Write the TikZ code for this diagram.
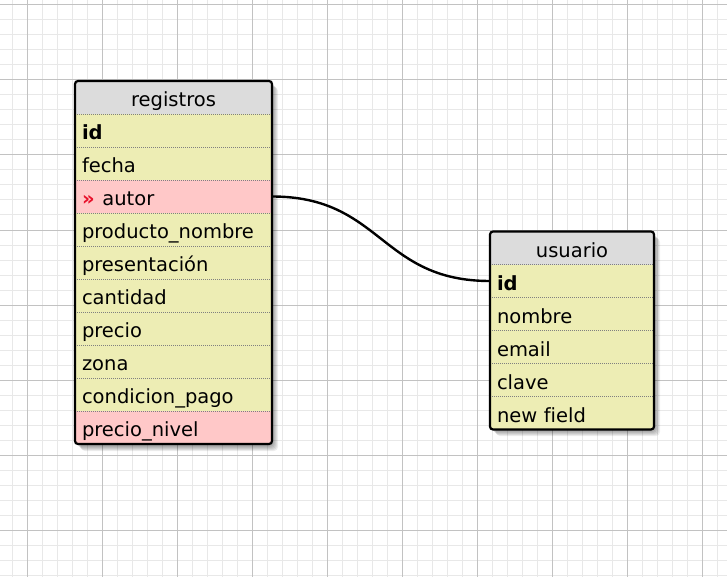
\documentclass[tikz,border=0pt]{standalone}
\usepackage{fontspec}
\setmainfont[Ligatures=NoCommon]{DejaVu Sans}
\definecolor{hdrgray}{HTML}{DCDCDC}
\definecolor{rowy}{HTML}{EDEDB4}
\definecolor{rowp}{HTML}{FFC8C8}
\definecolor{gridminor}{HTML}{E8E8E8}
\definecolor{gridmajor}{HTML}{C2C2C2}
\definecolor{fkred}{HTML}{E8102A}
\begin{document}
\begin{tikzpicture}[x=1pt,y=-1pt,
  minorline/.style={draw=gridminor, line width=1pt},
  majorline/.style={draw=gridmajor, line width=1pt},
  cell/.style={minimum height=33pt, inner xsep=7pt, inner ysep=0pt, outer sep=0pt,
    align=left, font=\fontsize{19.5}{21}\selectfont, text height=21pt, text depth=3pt, anchor=center},
  regcell/.style={cell, minimum width=197pt, text width=183pt},
  usrcell/.style={cell, minimum width=164pt, text width=150pt},
  hdr/.style={fill=hdrgray, align=center},
  yrow/.style={fill=rowy},
  prow/.style={fill=rowp},
  sep/.style={draw=gray, line width=0.7pt, dash pattern=on 0.8pt off 1.2pt},
  frame/.style={draw=black, line width=2.2pt, rounded corners=3pt},
  shade/.style={fill=black, opacity=0.07, rounded corners=4pt},
  conn/.style={draw=black, line width=2.4pt}
]
\useasboundingbox (0,0) rectangle (727,577);
\fill[white] (0,0) rectangle (727,577);
% grid
\foreach \x in {12,27,...,727} \draw[minorline] (\x,0) -- (\x,577);
\foreach \y in {5,20,...,577} \draw[minorline] (0,\y) -- (727,\y);
\foreach \x in {27,102,...,727} \draw[majorline] (\x,0) -- (\x,577);
\foreach \y in {5,80,...,577} \draw[majorline] (0,\y) -- (727,\y);
% shadows
\foreach \d in {1,2,...,6} {
  \fill[shade] (75+\d,81+\d) rectangle (272+\d,445+\d);
  \fill[shade] (490+\d,232+\d) rectangle (654+\d,430+\d);
}
% registros table
\node[regcell,hdr] (reg-h) at (173.5,97.5) {registros};
\node[regcell,yrow] (reg-1) at (173.5,130.5) {\textbf{id}};
\node[regcell,yrow] (reg-2) at (173.5,163.5) {fecha};
\node[regcell,prow] (reg-3) at (173.5,196.5) {\textcolor{fkred}{\textbf{»}}\hspace{0.4em}autor};
\node[regcell,yrow] (reg-4) at (173.5,229.5) {producto\_nombre};
\node[regcell,yrow] (reg-5) at (173.5,262.5) {presentación};
\node[regcell,yrow] (reg-6) at (173.5,295.5) {cantidad};
\node[regcell,yrow] (reg-7) at (173.5,328.5) {precio};
\node[regcell,yrow] (reg-8) at (173.5,361.5) {zona};
\node[regcell,yrow] (reg-9) at (173.5,394.5) {condicion\_pago};
\node[regcell,prow] (reg-10) at (173.5,427.5) {precio\_nivel};
\foreach \n in {h,1,2,...,9}
  \draw[sep] (reg-\n.south west) -- (reg-\n.south east);
\draw[frame] (reg-h.north west) rectangle (reg-10.south east);
% usuario table
\node[usrcell,hdr] (usr-h) at (572,248) {usuario};
\node[usrcell,yrow] (usr-1) at (572,281) {\textbf{id}};
\node[usrcell,yrow] (usr-2) at (572,314) {nombre};
\node[usrcell,yrow] (usr-3) at (572,347) {email};
\node[usrcell,yrow] (usr-4) at (572,380) {clave};
\node[usrcell,yrow] (usr-5) at (572,413) {new field};
\foreach \n in {h,1,2,3,4}
  \draw[sep] (usr-\n.south west) -- (usr-\n.south east);
\draw[frame] (usr-h.north west) rectangle (usr-5.south east);
% connector
\draw[conn] (reg-3.east) .. controls +(110,0) and +(-110,0) .. (usr-1.west);
\end{tikzpicture}
\end{document}
